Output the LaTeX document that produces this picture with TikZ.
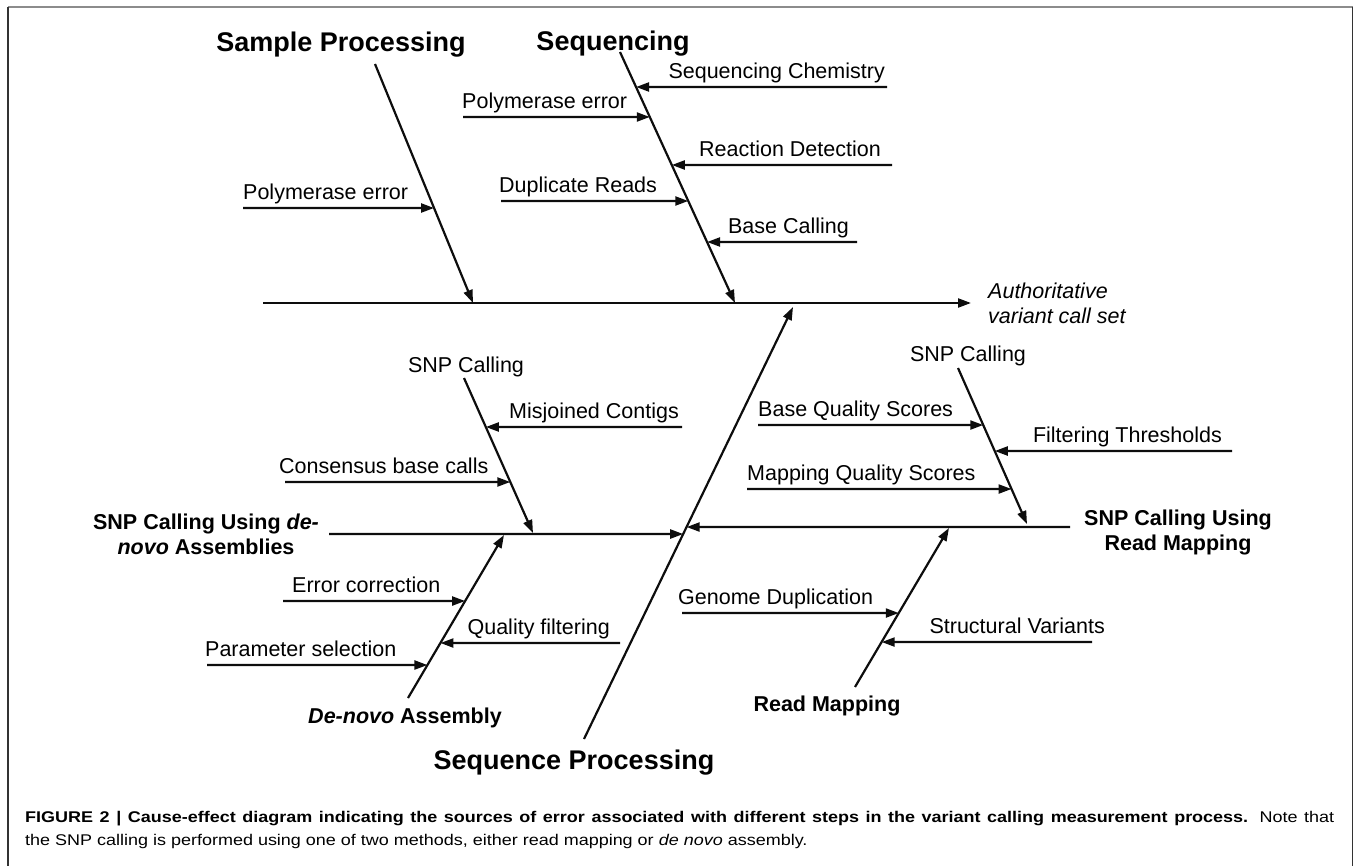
\documentclass[tikz,border=0pt]{standalone}
\usepackage{fontspec}
\setmainfont{Liberation Sans}
\newfontfamily\capfont[FakeStretch=1.16]{Liberation Sans}
\usetikzlibrary{arrows.meta,positioning}

\tikzset{
  bone/.style={line width=2.2pt, draw=black!95},
  tip/.style={-{Triangle[length=13pt,width=9pt]}},
  cause/.style={inner sep=0pt, font=\fontsize{21.5}{25}\selectfont},
  boneLab/.style={inner sep=0pt, font=\fontsize{27}{30}\selectfont\bfseries},
  subLab/.style={inner sep=0pt, align=center, font=\fontsize{21.5}{25}\selectfont\bfseries},
  capLab/.style={inner sep=0pt, text width=1309pt, align=justify, font=\capfont\fontsize{15.5}{23.5}\selectfont},
}

\begin{document}
\begin{tikzpicture}[x=1pt, y=-1pt]
	\useasboundingbox (0,0) rectangle (1354,866);
	% frame
	\draw[black!45, line width=1.6pt] (8,7) -- (1352.5,7);
	\draw[black!80, line width=1.6pt] (8,866) -- (8,7) (1352.5,7) -- (1352.5,866);

	% spine and effect
	\coordinate (spine-a) at (263,303);
	\coordinate (spine-b) at (971,303);
	\draw[bone, tip] (spine-a) -- (spine-b);
	\node[cause, right=17pt of spine-b, align=left, font=\fontsize{21.5}{25}\selectfont\itshape] (effect) {Authoritative\\variant call set};

	% bones
	\foreach \bn/\ax/\ay/\bx/\by in {sample/375/64/473/303, seq/620/52/735/303,
			proc/584/739/793/307, lsnp/464/378/533/533, dnv/408/698/504/535,
			rsnp/958/368/1027/524, rmap/855/687/949/528}{
			\coordinate (\bn-a) at (\ax,\ay);
			\coordinate (\bn-b) at (\bx,\by);
			\draw[bone, tip] (\bn-a) -- (\bn-b);
		}
	% the two SNP calling branches
	\foreach \sn/\sx/\sy in {ls/329/534, rs/1070/527}{
			\coordinate (\sn-a) at (\sx,\sy);
			\coordinate (\sn-c) at (700,\sy);
			\coordinate (\sn-b) at (intersection cs: first line={(proc-a)--(proc-b)}, second line={(\sn-a)--(\sn-c)});
			\draw[bone, tip] (\sn-a) -- (\sn-b);
		}

	% causes from the left
	\foreach \nm/\bn/\tx/\ty/\lx/\txt in {pa/sample/243/208/243/Polymerase error,
			pb/seq/463/117/462/Polymerase error, dr/seq/501/201/499/Duplicate Reads,
			cb/lsnp/285/482/279/Consensus base calls, ec/dnv/283/601/292/Error correction,
			ps/dnv/207/665/205/Parameter selection, bq/rsnp/758/425/758/Base Quality Scores,
			mq/rsnp/747/489/747/Mapping Quality Scores, gd/rmap/682/613/678/Genome Duplication}{
			\coordinate (\nm-t) at (\tx,\ty);
			\coordinate (\nm-u) at (\tx+10,\ty);
			\coordinate (\nm-h) at (intersection cs: first line={(\bn-a)--(\bn-b)}, second line={(\nm-t)--(\nm-u)});
			\draw[bone, tip] (\nm-t) -- (\nm-h);
			\node[cause, anchor=base west] (\nm) at (\lx,\ty-8.5) {\txt};
		}
	% causes from the right
	\foreach \nm/\bn/\tx/\ty/\lx/\txt in {sc/seq/887/87/885/Sequencing Chemistry,
			rd/seq/892/165/881/Reaction Detection, bc/seq/857/242/849/Base Calling,
			mc/lsnp/682/427/679/Misjoined Contigs, qf/dnv/620/643/610/Quality filtering,
			ft/rsnp/1232/451/1222/Filtering Thresholds, sv/rmap/1092/642/1105/Structural Variants}{
			\coordinate (\nm-t) at (\tx,\ty);
			\coordinate (\nm-u) at (\tx-10,\ty);
			\coordinate (\nm-h) at (intersection cs: first line={(\bn-a)--(\bn-b)}, second line={(\nm-t)--(\nm-u)});
			\draw[bone, tip] (\nm-t) -- (\nm-h);
			\node[cause, anchor=base east] (\nm) at (\lx,\ty-8.5) {\txt};
		}

	% bone labels
	\node[boneLab, anchor=base] (sampleLab) at (341,52) {Sample Processing};
	\node[boneLab, anchor=base] (seqLab) at (613,51) {Sequencing};
	\node[boneLab, anchor=base] (procLab) at (574,769) {Sequence Processing};
	\node[cause, anchor=base] (lsnpLab) at (466,373) {SNP Calling};
	\node[cause, anchor=base] (rsnpLab) at (968,361) {SNP Calling};
	\node[subLab] (lsLab) at (206,534) {SNP Calling Using \textit{de-}\\\textit{novo} Assemblies};
	\node[subLab] (rsLab) at (1178,532) {SNP Calling Using\\Read Mapping};
	\node[subLab, anchor=base] (dnvLab) at (405,723) {\textit{De-novo} Assembly};
	\node[subLab, anchor=base] (rmapLab) at (827,711) {Read Mapping};

	% caption
	\node[capLab, anchor=base west] (caption) at (25,822) {\textbf{FIGURE 2 | Cause-effect diagram indicating the sources of error associated with different steps in the variant calling measurement process.} Note that\linebreak the SNP calling is performed using one of two methods, either read mapping or \textit{de novo} assembly.};
\end{tikzpicture}
\end{document}
